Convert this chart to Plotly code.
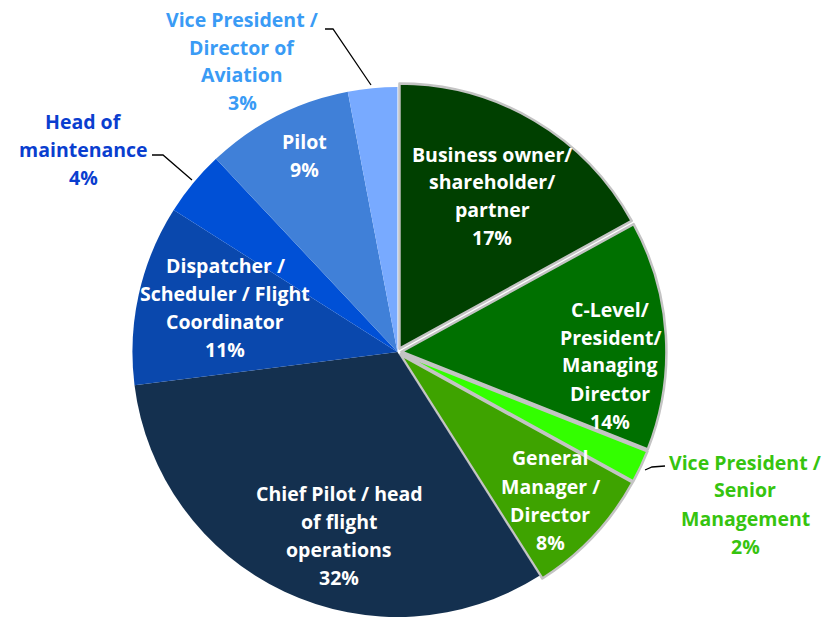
import plotly.graph_objects as go

# Survey respondents by job role (percent of respondents)
roles = [
    "Business owner/ shareholder/ partner",
    "C-Level/ President/ Managing Director",
    "Vice President / Senior Management",
    "General Manager / Director",
    "Chief Pilot / head of flight operations",
    "Dispatcher / Scheduler / Flight Coordinator",
    "Head of maintenance",
    "Pilot",
    "Vice President / Director of Aviation",
]
shares = [17, 14, 2, 8, 32, 11, 4, 9, 3]

# How each role name wraps when written on the chart
role_lines = [
    ["Business owner/", "shareholder/", "partner"],
    ["C-Level/", "President/", "Managing", "Director"],
    ["Vice President /", "Senior", "Management"],
    ["General", "Manager /", "Director"],
    ["Chief Pilot / head", "of flight", "operations"],
    ["Dispatcher /", "Scheduler / Flight", "Coordinator"],
    ["Head of", "maintenance"],
    ["Pilot"],
    ["Vice President /", "Director of", "Aviation"],
]

W, H = 828, 621

slice_colors = ["#004000", "#007000", "#33ff00", "#3ea300",
                "#14304f", "#0a48ad", "#0050d6", "#4080d8", "#78aaff"]
green_group = [True, True, True, True, False, False, False, False, False]
pulls = [0.015 if g else 0 for g in green_group]
edge_widths = [2.5 if g else 0 for g in green_group]
edge_colors = ["#c4c4c4" if g else "rgba(0,0,0,0)" for g in green_group]

# label centre (pixels), text colour
label_pos = [
    (492, 196, "white"),
    (610, 365, "white"),
    (745, 504, "#36c40f"),
    (550, 500, "white"),
    (339, 535, "white"),
    (225, 307, "white"),
    (83, 150, "#0a3ecf"),
    (304, 155, "white"),
    (242, 61, "#3a9bf5"),
]
LINE_STEP = 28

fig = go.Figure(go.Pie(
    labels=roles,
    values=shares,
    sort=False,
    direction="clockwise",
    rotation=0,
    pull=pulls,
    textinfo="none",
    hoverinfo="label+percent",
    marker=dict(colors=slice_colors,
                line=dict(color=edge_colors, width=edge_widths)),
    domain=dict(x=[0.08, 0.88], y=[0.0, 0.8663]),
    showlegend=False,
))

annotations = []
for lines, share, (cx, cy, col) in zip(role_lines, shares, label_pos):
    all_lines = lines + [f"{share}%"]
    n = len(all_lines)
    for i, txt in enumerate(all_lines):
        py = cy + (i - (n - 1) / 2) * LINE_STEP
        annotations.append(dict(
            x=cx / W, y=1 - py / H, xref="paper", yref="paper",
            text=f"<b>{txt}</b>", showarrow=False,
            xanchor="center", yanchor="middle",
            font=dict(family="Open Sans", size=19.5, color=col),
        ))

# leader lines for the labels placed outside the pie
leaders = [
    [(325, 29), (333, 29), (371, 85)],
    [(152, 155), (163, 155), (192, 180)],
    [(645, 470), (652, 467), (665, 466)],
]
shapes = []
for pts in leaders:
    path = "M " + " L ".join(f"{x / W:.5f},{1 - y / H:.5f}" for x, y in pts)
    shapes.append(dict(type="path", path=path, xref="paper", yref="paper",
                       line=dict(color="black", width=1.3)))

fig.update_layout(
    width=W, height=H,
    margin=dict(l=0, r=0, t=0, b=0),
    paper_bgcolor="white",
    plot_bgcolor="white",
    annotations=annotations,
    shapes=shapes,
)

fig.write_html("out.html")
